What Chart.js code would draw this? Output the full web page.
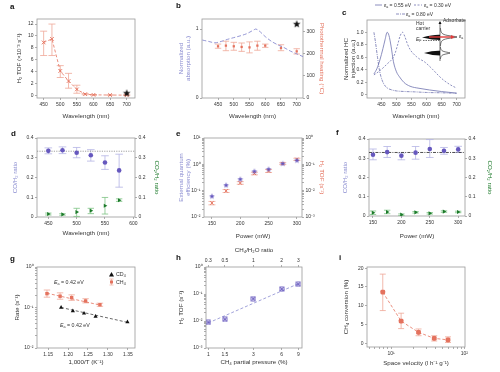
<!doctype html>
<html><head><meta charset="utf-8"><title>Panels a-i</title>
<script src="https://cdn.jsdelivr.net/npm/chart.js@4.4.1/dist/chart.umd.min.js"></script>
<style>
html,body{margin:0;padding:0;background:#fff}
body{position:relative;width:500px;height:372px;overflow:hidden;font-family:"Liberation Sans",Arial,sans-serif}
canvas,svg{position:absolute}
.lt{position:absolute;font-weight:bold;font-size:8px;line-height:8px;color:#111}
.tx{position:absolute;font-size:5px;line-height:6px;color:#333;white-space:nowrap}
.tx sub{font-size:3.6px;vertical-align:-1px;line-height:0}
</style></head><body>

<div class="lt" style="left:10px;top:3px">a</div>
<div class="lt" style="left:176px;top:2px">b</div>
<div class="lt" style="left:342px;top:9px">c</div>
<div class="lt" style="left:11px;top:130px">d</div>
<div class="lt" style="left:176px;top:130px">e</div>
<div class="lt" style="left:336px;top:129px">f</div>
<div class="lt" style="left:10px;top:255px">g</div>
<div class="lt" style="left:176px;top:254px">h</div>
<div class="lt" style="left:339px;top:254px">i</div>

<!-- legend of c -->
<svg style="left:375px;top:3px" width="8" height="4"><line x1="0" y1="2" x2="7" y2="2" stroke="#6f72ae" stroke-width="0.8"/></svg>
<div class="tx" style="left:384px;top:2px"><i>ε</i><sub>a</sub> = 0.55 eV</div>
<svg style="left:414px;top:3px" width="9" height="4"><line x1="0" y1="2" x2="8" y2="2" stroke="#6f72ae" stroke-width="0.8" stroke-dasharray="2,1.5"/></svg>
<div class="tx" style="left:424px;top:2px"><i>ε</i><sub>a</sub> = 0.30 eV</div>
<svg style="left:396px;top:12px" width="9" height="4"><line x1="0" y1="2" x2="9" y2="2" stroke="#6f72ae" stroke-width="0.8" stroke-dasharray="3,1,1,1"/></svg>
<div class="tx" style="left:406px;top:11px"><i>ε</i><sub>a</sub> = 0.80 eV</div>

<!-- inset texts of c -->
<div class="tx" style="left:416px;top:20px">Hot</div>
<div class="tx" style="left:416px;top:25px">carrier</div>
<div class="tx" style="left:443px;top:17px">Adsorbate</div>
<div class="tx" style="left:416px;top:36px"><i>E</i><sub>F</sub></div>
<div class="tx" style="left:459px;top:33px"><i>ε</i><sub>a</sub></div>

<!-- g annotations and legend -->
<div class="tx" style="left:54px;top:279px;font-size:5.3px"><i>E</i><sub>a</sub> = 0.42 eV</div>
<div class="tx" style="left:60px;top:322px;font-size:5.3px"><i>E</i><sub>a</sub> = 0.42 eV</div>
<svg style="left:108px;top:270px" width="7" height="16">
  <polygon points="3.5,2 6,6.5 1,6.5" fill="#111"/>
  <line x1="3.5" y1="9" x2="3.5" y2="15" stroke="#efa797" stroke-width="0.7"/>
  <line x1="1.5" y1="9" x2="5.5" y2="9" stroke="#efa797" stroke-width="0.7"/>
  <line x1="1.5" y1="15" x2="5.5" y2="15" stroke="#efa797" stroke-width="0.7"/>
  <rect x="2" y="10.5" width="3" height="3" fill="#e4725e"/>
</svg>
<div class="tx" style="left:116px;top:271px;font-size:5.3px">CD<sub>4</sub></div>
<div class="tx" style="left:116px;top:279px;font-size:5.3px">CH<sub>4</sub></div>

<script>
// ---- colours
const SAL = '#e4725e', SALL = '#efa797', PUR = '#6658be', LAV = '#8a8cd0', LAVL = '#b4b4e4';
const GRN = '#1c7a2a', GRNL = '#7cc383', CLINE = '#6f72ae';

// ---- a: H2 TOF vs wavelength
const aWl = [450, 475, 500, 525, 550, 575, 600, 650, 700];
const aTof = [8.9, 9.5, 4.1, 2.4, 1.0, 0.2, 0.08, 0.05, 0.03];
const aLo = [6.7, 6.7, 3.0, 1.2, 0.35, 0.1, 0.03, 0.0, 0.0];
const aHi = [10.8, 12.0, 5.0, 3.7, 1.7, 0.3, 0.13, 0.1, 0.08];
const aStarWl = [700], aStarTof = [0.35];
const aXTicks = [450, 500, 550, 600, 650, 700];
const aYTicks = [0, 2, 4, 6, 8, 10, 12];

// ---- b: absorption + photothermal heating
const bAbsWl = [400, 420, 440, 460, 480, 500, 520, 540, 555, 565, 570, 580, 600, 620, 640, 660, 680, 700, 720];
const bAbs = [0.84, 0.82, 0.80, 0.82, 0.85, 0.875, 0.90, 0.93, 0.965, 0.99, 1.0, 0.975, 0.89, 0.82, 0.77, 0.73, 0.68, 0.64, 0.60];
const bWl = [450, 475, 500, 525, 550, 575, 600, 650, 700];
const bHeat = [235, 238, 235, 232, 230, 238, 238, 227, 212];
const bLo = [226, 215, 217, 212, 205, 217, 230, 215, 200];
const bHi = [245, 258, 253, 250, 255, 258, 245, 242, 224];
const bStarWl = [700], bStarAbs = [1.07];
const bXTicks = [450, 500, 550, 600, 650, 700];
const bYTicks = [0, 1];
const bY2Ticks = [0, 100, 200, 300];

// ---- c: normalized hot-carrier injection
const cWl055 = [425, 435, 445, 455, 462, 469, 475, 482, 490, 500, 510, 525, 545, 575, 610, 650, 700];
const c055 = [0.335, 0.42, 0.56, 0.74, 0.88, 1.0, 0.95, 0.78, 0.53, 0.37, 0.29, 0.2, 0.14, 0.107, 0.08, 0.055, 0.03];
const cWl030 = [425, 440, 455, 470, 485, 495, 505, 512, 520, 528, 536, 546, 556, 567, 578, 590, 605, 622, 640, 656, 680, 700];
const c030 = [0.32, 0.37, 0.43, 0.5, 0.57, 0.66, 0.82, 0.94, 1.0, 0.93, 0.82, 0.72, 0.66, 0.61, 0.57, 0.54, 0.48, 0.40, 0.31, 0.24, 0.16, 0.11];
const cWl080 = [425, 430, 437, 444, 452, 460, 470, 485, 500, 530, 560, 600, 650, 700];
const c080 = [1.0, 0.85, 0.6, 0.38, 0.24, 0.16, 0.11, 0.08, 0.065, 0.055, 0.05, 0.04, 0.035, 0.027];
const cXTicks = [450, 500, 550, 600, 650, 700];
const cYTicks = [0, 0.2, 0.4, 0.6, 0.8, 1.0];

// ---- d: CO/H2 and CO2/H2 vs wavelength
const dWl = [450, 475, 500, 525, 550, 575];
const dCO = [0.335, 0.338, 0.325, 0.313, 0.276, 0.236];
const dCOLo = [0.32, 0.321, 0.30, 0.283, 0.241, 0.151];
const dCOHi = [0.35, 0.355, 0.352, 0.341, 0.31, 0.318];
const dCO2 = [0.015, 0.013, 0.025, 0.032, 0.057, 0.085];
const dCO2Lo = [0.01, 0.009, 0.003, 0.017, 0.015, 0.079];
const dCO2Hi = [0.02, 0.017, 0.044, 0.044, 0.099, 0.092];
const dRef = 0.333;
const dXTicks = [450, 500, 550, 600];
const ratioTicks = [0, 0.1, 0.2, 0.3, 0.4];

// ---- e: EQE and H2 TOF vs power
const ePow = [150, 175, 200, 225, 250, 275, 300];
const eEqe = [0.061, 0.16, 0.27, 0.54, 0.65, 1.06, 1.4];
const eTof = [0.0034, 0.0098, 0.0195, 0.045, 0.056, 0.107, 0.155];
const eTofLo = [0.0029, 0.0085, 0.0175, 0.04, 0.049, 0.098, 0.14];
const eTofHi = [0.0039, 0.011, 0.022, 0.05, 0.064, 0.116, 0.17];
const powTicks = [150, 200, 250, 300];

// ---- f: ratios vs power
const fPow = [150, 175, 200, 225, 250, 275, 300];
const fCO = [0.318, 0.332, 0.313, 0.329, 0.348, 0.339, 0.346];
const fCOLo = [0.292, 0.304, 0.292, 0.295, 0.304, 0.321, 0.330];
const fCOHi = [0.348, 0.361, 0.327, 0.361, 0.397, 0.356, 0.362];
const fCO2 = [0.017, 0.021, 0.007, 0.019, 0.014, 0.023, 0.021];
const fCO2Lo = [0.008, 0.012, 0.003, 0.015, 0.010, 0.019, 0.017];
const fCO2Hi = [0.026, 0.030, 0.011, 0.023, 0.018, 0.027, 0.025];
const fRef = 0.33;

// ---- g: Arrhenius
const gCH4X = [1.147, 1.18, 1.209, 1.244, 1.28];
const gCH4 = [0.22, 0.19, 0.175, 0.145, 0.117];
const gCH4Lo = [0.18, 0.16, 0.15, 0.13, 0.107];
const gCH4Hi = [0.27, 0.23, 0.205, 0.165, 0.128];
const gCD4X = [1.1825, 1.212, 1.24, 1.269, 1.349];
const gCD4 = [0.1, 0.082, 0.072, 0.06, 0.044];
const gFitCH4X = [1.147, 1.28], gFitCH4 = [0.225, 0.115];
const gFitCD4X = [1.1825, 1.349], gFitCD4 = [0.1, 0.043];
const gXTicks = [1.15, 1.2, 1.25, 1.3, 1.35];

// ---- h: TOF vs CH4 partial pressure
const hP = [1, 1.5, 3, 6, 9];
const hTof = [0.0089, 0.0115, 0.067, 0.153, 0.23];
const hFitP = [1, 9], hFit = [0.0085, 0.24];
const hXTicks = [1, 1.5, 3, 6, 9];
const hTopTicks = [1 / 3, 0.5, 1, 2, 3];
const hTopLabels = ['0.3', '0.5', '1', '2', '3'];

// ---- i: conversion vs space velocity
const iSv = [7.7, 13.7, 23.7, 38.8, 59.8];
const iConv = [13.6, 5.9, 2.9, 1.3, 0.9];
const iLo = [8.7, 3.9, 2.0, 0.6, 0.2];
const iHi = [18.4, 8.0, 3.8, 2.0, 1.7];
const iYTicks = [0, 5, 10, 15, 20];

// ---- helpers
Chart.defaults.font.family = "'Liberation Sans', Arial, sans-serif";
Chart.defaults.font.size = 5;
Chart.defaults.color = '#333';
Chart.defaults.events = [];

const SUP = { '-': '⁻', '0': '⁰', '1': '¹', '2': '²', '3': '³', '4': '⁴', '5': '⁵', '6': '⁶', '7': '⁷', '8': '⁸', '9': '⁹' };
const pow10 = v => {
  const e = Math.round(Math.log10(v));
  return Math.abs(v / Math.pow(10, e) - 1) < 1e-6 ? '10' + String(e).split('').map(c => SUP[c]).join('') : '';
};
const xy = (xs, ys) => xs.map((x, i) => ({ x, y: ys[i] }));
function logTicks(min, max) {
  const t = [];
  for (let e = Math.floor(Math.log10(min)); e <= Math.ceil(Math.log10(max)); e++)
    for (let k = 1; k < 10; k++) {
      const v = k * Math.pow(10, e);
      if (v >= min * 0.999 && v <= max * 1.001) t.push(v);
    }
  return t;
}

function ax(pos, min, max, ticks, o = {}) {
  return {
    type: o.log ? 'logarithmic' : 'linear',
    position: pos, min, max, bounds: 'data', tc: o.tc,
    afterBuildTicks: s => { s.ticks = ticks.map(v => ({ value: v })); },
    ticks: { autoSkip: false, maxRotation: 0, padding: 1.5, color: '#333', font: { size: 5 },
             callback: o.fmt || (v => String(v)) },
    grid: { drawOnChartArea: false, tickLength: 2, color: '#777', lineWidth: 0.6 },
    border: { display: false },
    title: { display: !!o.title, text: o.title || '', color: o.tcol || '#333', font: { size: 6.2 } }
  };
}

function starImg(color, r) {
  const s = Math.ceil(2 * r + 2), c = document.createElement('canvas');
  c.width = s; c.height = s;
  const g = c.getContext('2d');
  g.fillStyle = color; g.beginPath();
  for (let i = 0; i < 10; i++) {
    const a = -Math.PI / 2 + i * Math.PI / 5, rr = i % 2 ? r * 0.42 : r;
    g.lineTo(s / 2 + rr * Math.cos(a), s / 2 + rr * Math.sin(a));
  }
  g.closePath(); g.fill();
  return c;
}
function boxCross(color, h) {
  const s = 2 * h + 2, c = document.createElement('canvas');
  c.width = s; c.height = s;
  const g = c.getContext('2d');
  g.strokeStyle = color; g.lineWidth = 0.9;
  g.strokeRect(1, 1, 2 * h, 2 * h);
  g.beginPath(); g.moveTo(1, 1); g.lineTo(1 + 2 * h, 1 + 2 * h); g.moveTo(1 + 2 * h, 1); g.lineTo(1, 1 + 2 * h); g.stroke();
  return c;
}

// plot frame on all four sides
const frame = {
  id: 'frame',
  beforeDatasetsDraw(ch) {
    const a = ch.chartArea, g = ch.ctx;
    g.save(); g.strokeStyle = '#9a9a9a'; g.lineWidth = 0.8;
    g.strokeRect(a.left, a.top, a.right - a.left, a.bottom - a.top);
    g.restore();
  }
};
// vertical error bars read from ds.errLo / ds.errHi
const errBars = {
  id: 'errBars',
  beforeDatasetsDraw(ch) {
    const g = ch.ctx;
    ch.data.datasets.forEach((ds, i) => {
      if (!ds.errLo) return;
      const m = ch.getDatasetMeta(i), xs = ch.scales[m.xAxisID], ys = ch.scales[m.yAxisID], w = ds.capW || 3;
      g.save(); g.strokeStyle = ds.errColor; g.lineWidth = 0.8;
      ds.data.forEach((p, j) => {
        const x = xs.getPixelForValue(p.x), y1 = ys.getPixelForValue(ds.errLo[j]), y2 = ys.getPixelForValue(ds.errHi[j]);
        g.beginPath();
        g.moveTo(x, y1); g.lineTo(x, y2);
        g.moveTo(x - w, y1); g.lineTo(x + w, y1);
        g.moveTo(x - w, y2); g.lineTo(x + w, y2);
        g.stroke();
      });
      g.restore();
    });
  }
};
// horizontal reference line
const hline = {
  id: 'hline',
  beforeDatasetsDraw(ch, args, o) {
    if (o.value == null) return;
    const a = ch.chartArea, y = ch.scales[o.axis || 'y'].getPixelForValue(o.value), g = ch.ctx;
    g.save(); g.strokeStyle = o.color; g.lineWidth = 0.8; g.setLineDash(o.dash || []);
    g.beginPath(); g.moveTo(a.left, y); g.lineTo(a.right, y); g.stroke();
    g.restore();
  }
};
Chart.register(frame, errBars, hline);

function panel(box, plot, scales, datasets, plugOpts = {}) {
  const cv = document.createElement('canvas');
  cv.width = box[2]; cv.height = box[3];
  cv.style.left = box[0] + 'px'; cv.style.top = box[1] + 'px';
  document.body.insertBefore(cv, document.body.firstChild);
  const sz = { left: plot[0] - box[0], top: plot[1] - box[1], right: box[0] + box[2] - plot[2], bottom: box[1] + box[3] - plot[3] };
  const used = {};
  const lh = 6.2 * 1.2;
  for (const s of Object.values(scales)) {
    const pos = s.position; used[pos] = true;
    s.afterFit = sc => { if (pos === 'left' || pos === 'right') sc.width = sz[pos]; else sc.height = sz[pos]; };
    if (s.title.display && s.tc != null) {
      let p;
      if (pos === 'left') p = s.tc - box[0] - lh / 2;
      else if (pos === 'right') p = box[0] + box[2] - s.tc - lh / 2;
      else if (pos === 'bottom') p = box[1] + box[3] - s.tc - lh / 2;
      else p = s.tc - box[1] - lh / 2;
      s.title.padding = { top: p, bottom: p };
    }
    delete s.tc;
  }
  const pad = {};
  for (const k of ['left', 'top', 'right', 'bottom']) pad[k] = used[k] ? 0 : sz[k];
  return new Chart(cv, {
    type: 'scatter',
    data: { datasets },
    options: {
      responsive: false, animation: false, devicePixelRatio: 1,
      layout: { padding: pad }, scales,
      plugins: Object.assign({ legend: { display: false }, tooltip: { enabled: false } }, plugOpts)
    }
  });
}

const dec1 = v => v === 0 ? '0' : v.toFixed(1);

// ---- a
panel([0, 0, 165, 122], [37, 19, 135, 98], {
  x: ax('bottom', 430, 725, aXTicks, { title: 'Wavelength (nm)', tc: 116 }),
  y: ax('left', -0.45, 12.85, aYTicks, { title: 'H₂ TOF (×10⁻³ s⁻¹)', tc: 19 })
}, [
  { data: xy(aStarWl, aStarTof), pointStyle: starImg('#111', 4) },
  { data: xy(aWl, aTof), showLine: true, borderColor: SAL, borderWidth: 0.8, borderDash: [3, 2],
    pointStyle: 'crossRot', pointRadius: 2.6, pointBorderColor: SAL, pointBorderWidth: 0.9,
    errLo: aLo, errHi: aHi, errColor: SALL, capW: 3.5 }
]);

// ---- b
panel([165, 0, 165, 122], [202, 19, 303, 98], {
  x: ax('bottom', 399, 720, bXTicks, { title: 'Wavelength (nm)', tc: 116 }),
  y: ax('left', 0, 1.145, bYTicks, { title: ['Normalized', 'absorption (a.u.)'], tcol: LAV, tc: 181 }),
  y2: ax('right', 0, 359, bY2Ticks, { title: 'Photothermal heating (°C)', tcol: SAL, tc: 322 })
}, [
  { data: xy(bStarWl, bStarAbs), pointStyle: starImg('#111', 4) },
  { data: xy(bWl, bHeat), yAxisID: 'y2', pointStyle: 'rect', pointRadius: 1.6, backgroundColor: SAL, pointBorderWidth: 0,
    errLo: bLo, errHi: bHi, errColor: SALL, capW: 3.2 },
  { data: xy(bAbsWl, bAbs), showLine: true, pointRadius: 0, borderColor: LAV, borderWidth: 0.9, borderDash: [4, 2], tension: 0.3 }
]);

// ---- c
const cChart = panel([330, 0, 170, 122], [367, 20, 465, 98], {
  x: ax('bottom', 402, 728, cXTicks, { title: 'Wavelength (nm)', tc: 116 }),
  y: ax('left', -0.048, 1.196, cYTicks, { title: ['Normalized HC', 'injection (a.u.)'], tc: 346, fmt: dec1 })
}, [
  { data: xy(cWl055, c055), showLine: true, pointRadius: 0, borderColor: CLINE, borderWidth: 0.8, cubicInterpolationMode: 'monotone' },
  { data: xy(cWl030, c030), showLine: true, pointRadius: 0, borderColor: CLINE, borderWidth: 0.8, borderDash: [2, 1.5], cubicInterpolationMode: 'monotone' },
  { data: xy(cWl080, c080), showLine: true, pointRadius: 0, borderColor: CLINE, borderWidth: 0.8, borderDash: [3, 1, 1, 1], cubicInterpolationMode: 'monotone' }
]);

// ---- d
panel([0, 122, 165, 123], [37, 138, 135, 217], {
  x: ax('bottom', 430, 603, dXTicks, { title: 'Wavelength (nm)', tc: 233 }),
  y: ax('left', 0, 0.4, ratioTicks, { title: 'CO/H₂ ratio', tcol: LAV, tc: 15 }),
  y2: ax('right', 0, 0.4, ratioTicks, { title: 'CO₂/H₂ ratio', tcol: GRN, tc: 157 })
}, [
  { data: xy(dWl, dCO), pointStyle: 'circle', pointRadius: 2.3, backgroundColor: PUR, pointBorderWidth: 0,
    errLo: dCOLo, errHi: dCOHi, errColor: LAVL, capW: 3.8 },
  { data: xy(dWl, dCO2), yAxisID: 'y2', pointStyle: 'triangle', pointRotation: 90, pointRadius: 2.4, backgroundColor: GRN, pointBorderWidth: 0,
    errLo: dCO2Lo, errHi: dCO2Hi, errColor: GRNL, capW: 3.2 }
], { hline: { value: dRef, color: '#888', dash: [1.2, 1.2] } });

// ---- e
panel([165, 122, 165, 123], [204, 138, 302, 217], {
  x: ax('bottom', 136, 309, powTicks, { title: 'Power (mW)', tc: 236 }),
  y: ax('left', 0.01, 10, logTicks(0.01, 10), { log: true, fmt: pow10, title: ['External quantum', 'efficiency (%)'], tcol: LAV, tc: 181 }),
  y2: ax('right', 0.001, 1, logTicks(0.001, 1), { log: true, fmt: pow10, title: 'H₂ TOF (s⁻¹)', tcol: SAL, tc: 322 })
}, [
  { data: xy(ePow, eEqe), pointStyle: starImg(PUR, 3) },
  { data: xy(ePow, eTof), yAxisID: 'y2', pointStyle: 'crossRot', pointRadius: 2.4, pointBorderColor: SAL, pointBorderWidth: 0.9,
    errLo: eTofLo, errHi: eTofHi, errColor: SALL, capW: 3.5 }
]);

// ---- f
panel([330, 122, 170, 123], [369, 139, 465, 216], {
  x: ax('bottom', 143, 312, powTicks, { title: 'Power (mW)', tc: 236 }),
  y: ax('left', 0, 0.4, ratioTicks, { title: 'CO/H₂ ratio', tcol: LAV, tc: 345 }),
  y2: ax('right', 0, 0.4, ratioTicks, { title: 'CO₂/H₂ ratio', tcol: GRN, tc: 490 })
}, [
  { data: xy(fPow, fCO), pointStyle: 'circle', pointRadius: 2.3, backgroundColor: PUR, pointBorderWidth: 0,
    errLo: fCOLo, errHi: fCOHi, errColor: LAVL, capW: 3.8 },
  { data: xy(fPow, fCO2), yAxisID: 'y2', pointStyle: 'triangle', pointRotation: 90, pointRadius: 2.4, backgroundColor: GRN, pointBorderWidth: 0,
    errLo: fCO2Lo, errHi: fCO2Hi, errColor: GRNL, capW: 3.2 }
], { hline: { value: fRef, color: '#222', dash: [3, 1.2, 1, 1.2] } });

// ---- g
panel([0, 245, 165, 127], [37, 267, 135, 348], {
  x: ax('bottom', 1.122, 1.368, gXTicks, { title: '1,000/T (K⁻¹)', tc: 362, fmt: v => v.toFixed(2) }),
  y: ax('left', 0.01, 1, logTicks(0.01, 1), { log: true, fmt: pow10, title: 'Rate (s⁻¹)', tc: 17 })
}, [
  { data: xy(gCH4X, gCH4), pointStyle: 'rect', pointRadius: 2.4, backgroundColor: SAL, pointBorderWidth: 0,
    errLo: gCH4Lo, errHi: gCH4Hi, errColor: SALL, capW: 3.2 },
  { data: xy(gCD4X, gCD4), pointStyle: 'triangle', pointRadius: 2.4, backgroundColor: '#111', pointBorderWidth: 0 },
  { data: xy(gFitCH4X, gFitCH4), showLine: true, pointRadius: 0, borderColor: SAL, borderWidth: 0.8, borderDash: [3, 2] },
  { data: xy(gFitCD4X, gFitCD4), showLine: true, pointRadius: 0, borderColor: '#444', borderWidth: 0.8, borderDash: [3, 2] }
]);

// ---- h
panel([165, 245, 165, 127], [206, 267, 302, 348], {
  x: ax('bottom', 0.945, 9.85, hXTicks, { log: true, title: 'CH₄ partial pressure (%)', tc: 362 }),
  x2: ax('top', 0.945 / 3, 9.85 / 3, hTopTicks, { log: true, title: 'CH₄/H₂O ratio', tc: 250, fmt: (v, i) => hTopLabels[i] }),
  y: ax('left', 0.001, 1, logTicks(0.001, 1), { log: true, fmt: pow10, title: 'H₂ TOF (s⁻¹)', tc: 181 })
}, [
  { data: xy(hP, hTof), pointStyle: boxCross(PUR, 2) },
  { data: xy(hFitP, hFit), showLine: true, pointRadius: 0, borderColor: LAV, borderWidth: 0.8, borderDash: [3, 2] }
]);

// ---- i
panel([330, 245, 170, 127], [367, 267, 465, 347], {
  x: ax('bottom', 4.69, 102, logTicks(4.69, 102), { log: true, fmt: pow10, title: 'Space velocity (l h⁻¹ g⁻¹)', tc: 363 }),
  y: ax('left', -1, 20.3, iYTicks, { title: 'CH₄ conversion (%)', tc: 346 })
}, [
  { data: xy(iSv, iConv), showLine: true, borderColor: SAL, borderWidth: 0.8, borderDash: [3, 2],
    pointStyle: 'rectRounded', pointRadius: 2.8, backgroundColor: SAL, pointBorderWidth: 0,
    errLo: iLo, errHi: iHi, errColor: SALL, capW: 3 }
]);

// ---- c inset schematic (energy diagram)
(function () {
  const cv = document.createElement('canvas');
  cv.width = 50; cv.height = 44;
  cv.style.left = '415px'; cv.style.top = '19px';
  document.body.appendChild(cv);
  const g = cv.getContext('2d');
  g.strokeStyle = '#111'; g.fillStyle = '#111'; g.lineWidth = 0.6;
  // energy axis
  g.beginPath(); g.moveTo(25, 42); g.lineTo(25, 3); g.stroke();
  g.beginPath(); g.moveTo(23.5, 5); g.lineTo(25, 2); g.lineTo(26.5, 5); g.fill();
  // hot-carrier distributions (left)
  g.beginPath(); g.moveTo(7, 18.5); g.quadraticCurveTo(18, 15.5, 25, 15.8); g.lineTo(25, 21); g.quadraticCurveTo(18, 21, 7, 18.5); g.fill();
  g.beginPath(); g.moveTo(9, 34); g.quadraticCurveTo(18, 31.5, 25, 31.8); g.lineTo(25, 36.5); g.quadraticCurveTo(18, 36.5, 9, 34); g.fill();
  // adsorbate resonances (right)
  g.beginPath();
  for (let y = 9; y <= 27; y += 0.5) g.lineTo(25 + 17 / (1 + Math.pow((y - 18) / 1.4, 2)), y);
  g.stroke();
  g.beginPath();
  for (let y = 28; y <= 40; y += 0.5) g.lineTo(25 + 10 / (1 + Math.pow((y - 34) / 1.2, 2)), y);
  g.stroke();
  // Fermi level
  g.setLineDash([1.5, 1]);
  g.beginPath(); g.moveTo(8, 21.5); g.lineTo(25, 21.5); g.stroke();
  g.setLineDash([]);
  // transfer arrow
  g.strokeStyle = '#e03c3c'; g.fillStyle = '#e03c3c'; g.lineWidth = 1.4;
  g.beginPath(); g.moveTo(14, 18); g.lineTo(37, 18); g.stroke();
  g.beginPath(); g.moveTo(36, 16); g.lineTo(40, 18); g.lineTo(36, 20); g.fill();
})();
</script>
</body></html>
